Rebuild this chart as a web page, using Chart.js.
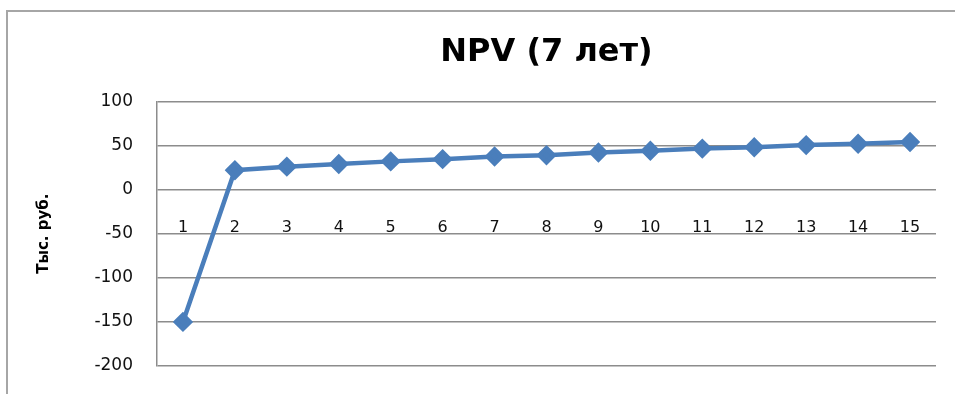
<!DOCTYPE html>
<html>
<head>
<meta charset="utf-8">
<script src="https://cdn.jsdelivr.net/npm/chart.js@4"></script>
<style>
  html, body { margin: 0; background: #fff; overflow: hidden; }
  #wrap { position: relative; width: 955px; height: 394px; }
  .edge { position: absolute; background: #a6a6a6; }
  #edgeTop { left: 6px; top: 10px; width: 949px; height: 2px; }
  #edgeLeft { left: 6px; top: 10px; width: 2px; height: 384px; }
  canvas { position: absolute; left: 0; top: 0; }
</style>
</head>
<body>
<div id="wrap">
  <div class="edge" id="edgeTop"></div>
  <div class="edge" id="edgeLeft"></div>
  <canvas id="npvChart" width="955" height="394"></canvas>
</div>
<script>
const periods = ['1','2','3','4','5','6','7','8','9','10','11','12','13','14','15'];
const npv = [-150, 22, 26, 29, 32, 34.5, 37.5, 39, 42, 44, 46.5, 48, 50.5, 52, 54];
const yTicks = [100, 50, 0, -50, -100, -150, -200];

const font = "'DejaVu Sans', sans-serif";
const ctx = document.getElementById('npvChart').getContext('2d');

new Chart(ctx, {
    type: 'line',
    data: {
        labels: periods,
        datasets: [{
            label: 'NPV',
            data: npv,
            borderColor: '#4a7ebb',
            backgroundColor: '#4a7ebb',
            borderWidth: 4.5,
            pointStyle: 'rectRot',
            pointRadius: 7,
            pointHoverRadius: 7,
            tension: 0
        }]
    },
    options: {
        responsive: false,
        animation: false,
        layout: { padding: { left: 31, right: 19, top: 12, bottom: 28 } },
        plugins: {
            legend: { display: false },
            tooltip: { enabled: false },
            title: {
                display: true,
                fullSize: false,
                text: 'NPV (7 лет)',
                color: '#000',
                font: { family: font, size: 32, weight: 'bold' },
                padding: { top: 21, bottom: 30 }
            }
        },
        scales: {
            x: {
                position: { y: 0 },
                offset: true,
                afterFit: scale => { scale.height = 0; },
                grid: { display: false, drawTicks: false },
                border: { display: false },
                ticks: {
                    color: '#111',
                    padding: 29,
                    maxRotation: 0,
                    font: { family: font, size: 16 }
                }
            },
            y: {
                min: -200,
                max: 100,
                afterBuildTicks: scale => {
                    scale.ticks = yTicks.map(v => ({ value: v }));
                },
                afterFit: scale => {
                    scale.width = 126;
                    scale.paddingTop = 0;
                    scale.paddingBottom = 0;
                },
                grid: { color: '#8c8c8c', lineWidth: 1.5, drawTicks: false },
                border: { color: '#8c8c8c', width: 1.5 },
                ticks: {
                    color: '#111',
                    padding: 24,
                    font: { family: font, size: 17 }
                },
                title: {
                    display: true,
                    text: 'Тыс. руб.',
                    color: '#000',
                    font: { family: font, size: 15, weight: 'bold' }
                }
            }
        }
    }
});
</script>
</body>
</html>
